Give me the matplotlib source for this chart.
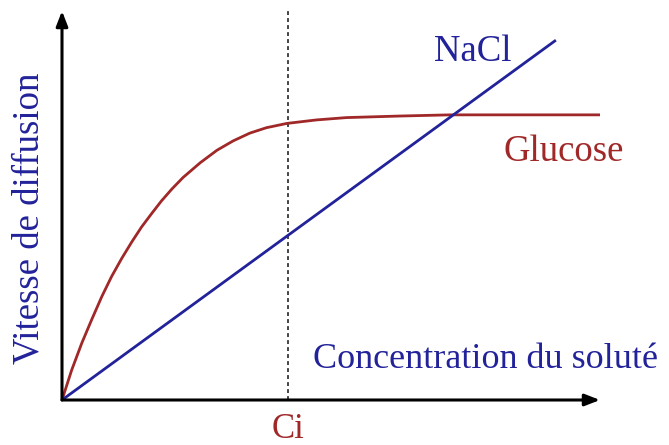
import numpy as np
import matplotlib.pyplot as plt

# concentration (x) and diffusion speed (y), arbitrary units
nacl_x = [0.0, 9.18]
nacl_y = [0.0, 9.25]

glucose_x = [0.0, 0.18, 0.37, 0.55, 0.74, 0.92, 1.11, 1.30, 1.48, 1.67,
             1.85, 2.04, 2.25, 2.57, 2.88, 3.18, 3.49, 3.80, 4.18, 4.73,
             5.29, 6.28, 7.21, 10.0]
glucose_y = [0.0, 0.77, 1.47, 2.06, 2.66, 3.17, 3.64, 4.07, 4.45, 4.80,
             5.12, 5.42, 5.72, 6.10, 6.42, 6.66, 6.86, 7.00, 7.11, 7.20,
             7.26, 7.30, 7.33, 7.33]

ci = 4.2

blue = '#22229a'
red = '#a02828'
plt.rcParams['font.family'] = ['Liberation Serif', 'DejaVu Serif']

fig = plt.figure(figsize=(6.69, 4.45), dpi=100)
ax = fig.add_axes([62 / 669, 45 / 445, 538 / 669, 389 / 445])
ax.set_xlim(0, 10)
ax.set_ylim(0, 10)
ax.axis('off')

# axes with arrow heads
arrow = dict(arrowstyle='-|>,head_length=0.9,head_width=0.35', color='black',
             lw=2.2, shrinkA=0, shrinkB=0)
ax.annotate('', xy=(1, 0), xytext=(0, 0), xycoords='axes fraction',
            arrowprops=arrow, annotation_clip=False)
ax.annotate('', xy=(0, 1), xytext=(0, 0), xycoords='axes fraction',
            arrowprops=arrow, annotation_clip=False)

# Ci marker
ax.plot([ci, ci], [0, 10.03], color='#444444', lw=1.4,
        linestyle=(0, (2, 1.6)), clip_on=False)

ax.plot(glucose_x, glucose_y, color=red, lw=2, solid_joinstyle='round')
ax.plot(nacl_x, nacl_y, color=blue, lw=2, solid_capstyle='butt')

ax.text(7.64, 8.95, 'NaCl', color=blue, fontsize=26.5, ha='center', va='center')
ax.text(9.33, 6.38, 'Glucose', color=red, fontsize=26.5, ha='center', va='center')
ax.text(7.88, 1.05, 'Concentration du soluté', color=blue, fontsize=26,
        ha='center', va='center')
ax.text(ci, -0.98, 'Ci', color=red, fontsize=25, ha='center', va='baseline',
        clip_on=False)
ax.text(-0.61, 4.68, 'Vitesse de diffusion', color=blue, fontsize=26.5,
        ha='center', va='center', rotation=90, clip_on=False)

fig.savefig('out.png', dpi=100)
